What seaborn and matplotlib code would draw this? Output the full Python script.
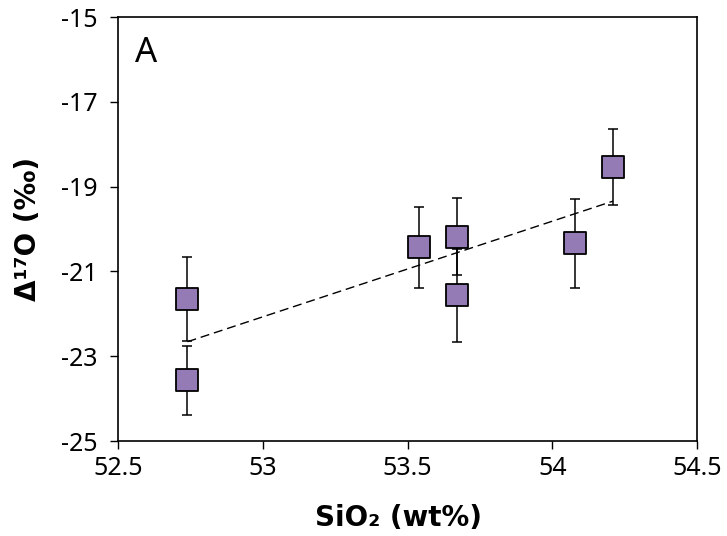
import numpy as np
import pandas as pd
import seaborn as sns
import matplotlib.pyplot as plt

# values
sio2 = [52.74, 52.74, 53.54, 53.67, 53.67, 54.08, 54.21]
d17o = [-21.65, -23.57, -20.43, -20.18, -21.56, -20.34, -18.54]
d17o_err = [0.98, 0.81, 0.95, 0.91, 1.1, 1.05, 0.9]
xticks = [52.5, 53, 53.5, 54, 54.5]
yticks = [-25, -23, -21, -19, -17, -15]

df = pd.DataFrame({'sio2': sio2, 'd17o': d17o, 'err': d17o_err})

sns.set_style("white")
plt.rcParams['font.family'] = ['Noto Sans', 'DejaVu Sans']
plt.rcParams['axes.unicode_minus'] = False

fig = plt.figure(figsize=(7.27, 5.36), dpi=100)
ax = fig.add_axes([118/727, 1-441/536, (697-118)/727, (441-17)/536])

# dashed linear fit through the points
sns.regplot(x='sio2', y='d17o', data=df, scatter=False, ci=None, ax=ax,
            line_kws=dict(color='black', lw=1, ls=(0, (6.5, 3.5))))

ax.errorbar(df.sio2, df.d17o, yerr=df.err, fmt='none', ecolor='black',
            elinewidth=1.1, capsize=3.5, capthick=1.1, zorder=3)
sns.scatterplot(x='sio2', y='d17o', data=df, ax=ax, marker='s', s=230,
                color='#957bb5', edgecolor='black', linewidth=1.3, zorder=4)

ax.set_xlim(52.5, 54.5)
ax.set_ylim(-25, -15)
ax.set_xticks(xticks)
ax.set_xticklabels([f'{v:g}' for v in xticks])
ax.set_yticks(yticks)
ax.set_yticklabels([f'{v:g}' for v in yticks])
ax.tick_params(direction='out', length=6, width=1, labelsize=18, colors='black',
               left=True, bottom=True)
ax.tick_params(axis='y', pad=9)
ax.tick_params(axis='x', pad=5)
for s in ax.spines.values():
    s.set_color('black')
    s.set_linewidth(1.2)

ax.set_xlabel('SiO₂ (wt%)', fontsize=20, fontweight='bold', color='black',
              family='DejaVu Sans', va='center')
ax.xaxis.set_label_coords(0.485, -0.182)
ax.set_ylabel('Δ¹⁷O (‰)', fontsize=20, fontweight='bold', color='black',
              family='DejaVu Sans', va='center')
ax.yaxis.set_label_coords(-0.155, 0.5)
ax.text(0.03, 0.955, 'A', transform=ax.transAxes, fontsize=25, va='top',
        ha='left', color='black')

fig.savefig('out.png', dpi=100)
